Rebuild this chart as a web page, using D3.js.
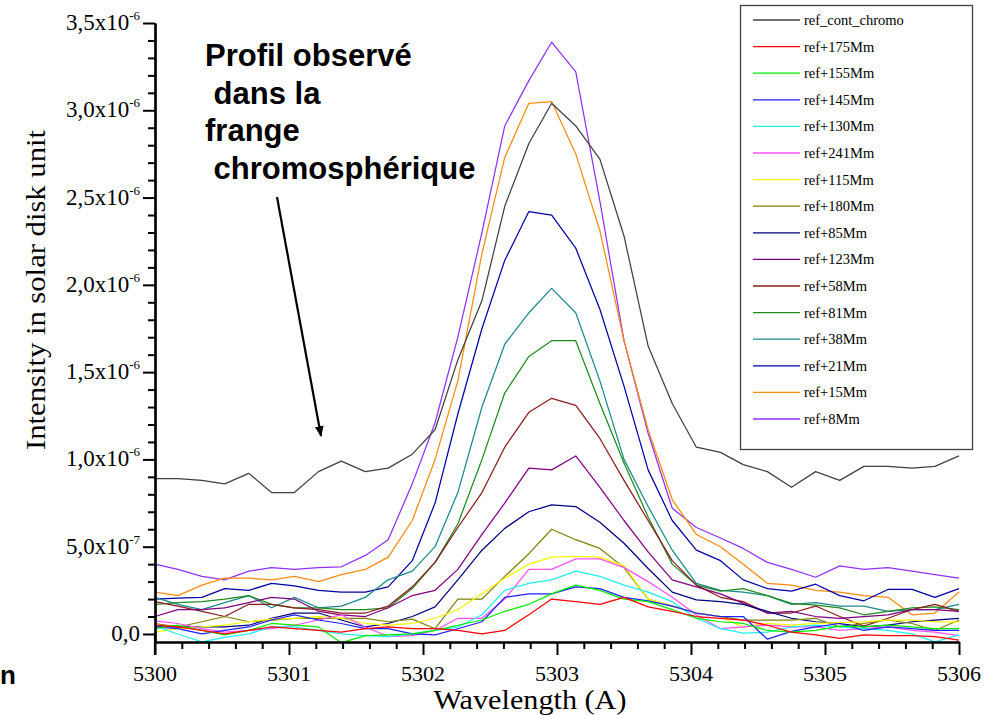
<!DOCTYPE html>
<html><head><meta charset="utf-8">
<script src="https://cdn.jsdelivr.net/npm/d3@7/dist/d3.min.js"></script>
<style>
html,body{margin:0;padding:0;background:#fff;}
svg{display:block;}
</style></head>
<body>
<svg id="chart" width="984" height="715"></svg>
<script>
// ---------- DATA (intensity in units of 1e-6 solar disk unit) ----------
const wavelengths = [5300.00,5300.17,5300.35,5300.52,5300.70,5300.87,5301.04,5301.22,5301.39,5301.57,5301.74,5301.92,5302.09,5302.26,5302.44,5302.61,5302.79,5302.96,5303.14,5303.32,5303.50,5303.68,5303.86,5304.04,5304.22,5304.39,5304.57,5304.75,5304.93,5305.11,5305.29,5305.47,5305.65,5305.82,5306.00];

const seriesNames = ["ref_cont_chromo","ref+175Mm","ref+155Mm","ref+145Mm","ref+130Mm","ref+241Mm","ref+115Mm","ref+180Mm","ref+85Mm","ref+123Mm","ref+58Mm","ref+81Mm","ref+38Mm","ref+21Mm","ref+15Mm","ref+8Mm"];
const seriesColors = ["#404040","#ff0000","#00ee00","#2020ff","#20f0f0","#ff50ff","#f8f800","#808000","#000080","#800080","#8c1c1c","#208a20","#1a8a8a","#0000a8","#ff8a10","#9030ff"];

const refContChromo = [0.89,0.89,0.88,0.86,0.92,0.81,0.81,0.93,0.99,0.93,0.95,1.03,1.17,1.57,1.91,2.45,2.81,3.04,2.91,2.72,2.28,1.65,1.32,1.07,1.04,0.97,0.93,0.84,0.93,0.88,0.96,0.96,0.95,0.96,1.02];
const ref175 = [0.05,0.04,0.02,0.00,0.02,0.04,0.03,0.02,0.01,0.03,0.04,0.03,0.03,0.02,0.00,0.02,0.11,0.20,0.185,0.17,0.21,0.155,0.13,0.10,0.09,0.08,0.05,0.01,-0.005,-0.025,-0.005,-0.01,-0.01,-0.015,-0.035];
const ref155 = [0.03,0.05,0.02,-0.005,0.02,0.06,0.05,0.04,-0.05,-0.01,-0.005,0.00,0.02,0.05,0.08,0.13,0.17,0.23,0.28,0.25,0.20,0.185,0.14,0.09,0.07,0.06,0.02,0.01,0.02,0.045,0.04,0.05,0.04,0.03,0.03];
const ref145 = [0.04,0.03,0.00,0.02,0.04,0.08,0.11,0.08,0.06,0.03,0.03,0.00,-0.005,0.03,0.07,0.21,0.23,0.23,0.27,0.26,0.21,0.19,0.16,0.12,0.10,0.10,-0.03,0.015,0.04,0.06,0.02,0.04,0.03,0.02,0.02];
const ref130 = [0.045,0.00,-0.045,-0.02,0.00,0.04,0.04,0.02,0.00,-0.01,-0.015,0.00,0.02,0.04,0.11,0.25,0.29,0.31,0.36,0.33,0.28,0.24,0.185,0.09,0.03,0.005,0.01,0.04,0.05,0.04,0.03,0.02,0.00,-0.045,-0.005];
const ref241 = [0.075,0.06,0.03,0.01,0.02,0.03,0.05,0.08,0.11,0.04,-0.015,-0.01,0.02,0.09,0.09,0.20,0.37,0.37,0.43,0.43,0.38,0.30,0.21,0.11,0.03,0.04,0.05,0.04,0.04,0.02,0.03,0.04,0.02,0.01,-0.01];
const ref115 = [0.01,0.03,0.04,0.05,0.07,0.085,0.09,0.10,0.09,0.06,0.05,0.06,0.09,0.14,0.23,0.32,0.40,0.44,0.445,0.44,0.39,0.20,0.16,0.12,0.10,0.04,0.06,0.05,0.06,0.065,0.07,0.08,0.08,0.07,0.07];
const ref180 = [0.06,0.04,0.07,0.10,0.07,0.08,0.09,0.09,0.09,0.09,0.07,0.085,0.03,0.20,0.20,0.33,0.46,0.60,0.54,0.49,0.38,0.20,0.16,0.12,0.10,0.08,0.08,0.08,0.09,0.04,0.06,0.08,0.06,0.02,0.08];
const ref85 = [0.04,0.04,0.04,0.04,0.05,0.09,0.12,0.12,0.08,0.04,0.06,0.10,0.155,0.31,0.48,0.605,0.70,0.74,0.73,0.64,0.52,0.375,0.24,0.195,0.185,0.17,0.13,0.09,0.07,0.06,0.04,0.05,0.07,0.08,0.09];
const ref123 = [0.10,0.14,0.14,0.15,0.18,0.21,0.20,0.13,0.11,0.10,0.15,0.22,0.25,0.37,0.57,0.75,0.95,0.94,1.02,0.84,0.65,0.47,0.31,0.27,0.23,0.175,0.12,0.13,0.10,0.09,0.10,0.11,0.14,0.14,0.13];
const ref58 = [0.185,0.16,0.13,0.10,0.17,0.17,0.15,0.14,0.12,0.12,0.16,0.27,0.41,0.61,0.81,1.07,1.27,1.35,1.31,1.12,0.88,0.65,0.42,0.28,0.21,0.185,0.12,0.12,0.16,0.10,0.045,0.09,0.14,0.17,0.13];
const ref81 = [0.17,0.18,0.185,0.20,0.22,0.17,0.15,0.15,0.14,0.14,0.15,0.26,0.41,0.63,1.00,1.38,1.59,1.68,1.68,1.32,0.98,0.67,0.40,0.28,0.245,0.26,0.22,0.175,0.165,0.15,0.11,0.13,0.15,0.155,0.14];
const ref38 = [0.21,0.17,0.14,0.18,0.22,0.15,0.21,0.15,0.16,0.21,0.31,0.36,0.50,0.81,1.30,1.66,1.84,1.98,1.84,1.45,1.00,0.73,0.48,0.29,0.25,0.24,0.22,0.17,0.18,0.16,0.16,0.13,0.14,0.14,0.17];
const ref21 = [0.20,0.205,0.21,0.26,0.25,0.29,0.275,0.25,0.24,0.24,0.27,0.42,0.75,1.26,1.75,2.14,2.42,2.40,2.21,1.86,1.42,0.94,0.65,0.48,0.42,0.31,0.26,0.245,0.285,0.22,0.19,0.255,0.255,0.21,0.26];
const ref15 = [0.24,0.22,0.28,0.32,0.32,0.31,0.33,0.30,0.34,0.37,0.44,0.65,1.00,1.45,2.18,2.73,3.04,3.05,2.75,2.31,1.68,1.17,0.77,0.57,0.50,0.40,0.29,0.28,0.25,0.24,0.22,0.21,0.11,0.12,0.24];
const ref8 = [0.40,0.37,0.33,0.31,0.36,0.38,0.37,0.38,0.385,0.45,0.54,0.86,1.21,1.70,2.30,2.91,3.17,3.39,3.22,2.48,1.68,1.15,0.72,0.61,0.55,0.49,0.41,0.37,0.325,0.39,0.37,0.38,0.36,0.34,0.32];

const seriesValues = [refContChromo,ref175,ref155,ref145,ref130,ref241,ref115,ref180,ref85,ref123,ref58,ref81,ref38,ref21,ref15,ref8];

const xTickValues = [5300,5301,5302,5303,5304,5305,5306];
const xTickLabels = ["5300","5301","5302","5303","5304","5305","5306"];
const yTickValues = [0,0.5,1.0,1.5,2.0,2.5,3.0,3.5];
const yTickMantissa = ["0,0","5,0x10","1,0x10","1,5x10","2,0x10","2,5x10","3,0x10","3,5x10"];
const yTickExponent = ["","-7","-6","-6","-6","-6","-6","-6"];

const annotationLines = ["Profil observé"," dans la","frange"," chromosphérique"];

// ---------- DRAW ----------
const svg = d3.select("#chart");
const x = d3.scaleLinear().domain([5300,5306]).range([155,959]);
const y = d3.scaleLinear().domain([-0.046,3.5]).range([642,23]);

const serif = "'Liberation Serif','Times New Roman',serif";
const sans = "'Liberation Sans',Arial,sans-serif";

// series lines (draw last legend entry first so the reference profile is on top)
const line = d3.line().x((d,i)=>x(wavelengths[i])).y(d=>y(d));
const order = d3.range(seriesNames.length).reverse();
svg.append("g").selectAll("path").data(order).join("path")
  .attr("d", i=>line(seriesValues[i]))
  .attr("fill","none")
  .attr("stroke", i=>seriesColors[i])
  .attr("stroke-width",1.25)
  .attr("stroke-linejoin","round");

// X axis
const xMinor = d3.range(5300,5306.001,0.2).filter(v=>Math.abs(v-Math.round(v))>1e-6);
const gx = svg.append("g").attr("transform","translate(0,642)");
gx.call(d3.axisBottom(x).tickValues(xMinor).tickSize(7).tickFormat("").tickSizeOuter(0));
gx.append("g").call(d3.axisBottom(x).tickValues(xTickValues).tickSize(13).tickFormat("").tickSizeOuter(0));
gx.selectAll("path.domain").attr("stroke","#000").attr("stroke-width",2.2);
gx.selectAll(".tick line").attr("stroke","#000").attr("stroke-width",2);
svg.append("g").selectAll("text").data(xTickValues).join("text")
  .attr("x",d=>x(d)).attr("y",681)
  .attr("text-anchor","middle")
  .style("font-family",serif).style("font-size","22px").attr("fill","#000")
  .text((d,i)=>xTickLabels[i]);

// Y axis
const yMinor = d3.range(0,3.5001,0.1).filter(v=>Math.abs(v*2-Math.round(v*2))>1e-6);
const gy = svg.append("g").attr("transform","translate(155,0)");
gy.call(d3.axisLeft(y).tickValues(yMinor).tickSize(7).tickFormat("").tickSizeOuter(0));
gy.append("g").call(d3.axisLeft(y).tickValues(yTickValues).tickSize(12).tickFormat("").tickSizeOuter(0));
gy.selectAll("path.domain").attr("stroke","#000").attr("stroke-width",2.2);
gy.selectAll(".tick line").attr("stroke","#000").attr("stroke-width",2);
svg.append("line").attr("x1",155).attr("x2",155).attr("y1",y(0)).attr("y2",655).attr("stroke","#000").attr("stroke-width",2.2);

const yl = svg.append("g").selectAll("text").data(yTickValues).join("text")
  .attr("x",140).attr("y",d=>y(d)+7)
  .attr("text-anchor","end")
  .style("font-family",serif).style("font-size","23px").attr("fill","#000");
yl.append("tspan").text((d,i)=>yTickMantissa[i]);
yl.append("tspan").attr("dy",-10).style("font-size","13px").text((d,i)=>yTickExponent[i]);

// Axis titles
svg.append("text").attr("x",530).attr("y",709).attr("text-anchor","middle")
  .style("font-family",serif).style("font-size","28px")
  .attr("textLength",193).attr("lengthAdjust","spacingAndGlyphs")
  .text("Wavelength (A)");
svg.append("text").attr("transform","translate(45,290) rotate(-90)").attr("text-anchor","middle")
  .style("font-family",serif).style("font-size","28px")
  .attr("textLength",320).attr("lengthAdjust","spacingAndGlyphs")
  .text("Intensity in solar disk unit");

// Legend
const lg = svg.append("g");
lg.append("rect").attr("x",740.5).attr("y",5.5).attr("width",232).attr("height",444)
  .attr("fill","#fff").attr("stroke","#404040").attr("stroke-width",1.3);
const le = lg.selectAll("g.entry").data(seriesNames).join("g").attr("class","entry")
  .attr("transform",(d,i)=>`translate(0,${20+i*26.6})`);
le.append("line").attr("x1",753).attr("x2",800).attr("y1",0).attr("y2",0)
  .attr("stroke",(d,i)=>seriesColors[i]).attr("stroke-width",1.3);
le.append("text").attr("x",804).attr("y",5)
  .style("font-family",serif).style("font-size","14.5px").attr("fill","#000")
  .text(d=>d);

// Annotation
const ann = svg.append("g").style("font-family",sans).style("font-weight","bold").style("font-size","31px");
const annX = [205,205,205,205];
const annY = [66,104,141,179];
ann.selectAll("text").data(annotationLines).join("text")
  .attr("x",(d,i)=>annX[i]).attr("y",(d,i)=>annY[i])
  .attr("xml:space","preserve").style("white-space","pre")
  .text(d=>d);
svg.append("defs").append("marker").attr("id","ah").attr("viewBox","0 0 10 10")
  .attr("refX",9).attr("refY",5).attr("markerWidth",5).attr("markerHeight",5)
  .attr("orient","auto").append("path").attr("d","M0,1 L10,5 L0,9 Z").attr("fill","#000");
svg.append("line").attr("x1",277).attr("y1",197).attr("x2",321).attr("y2",436)
  .attr("stroke","#000").attr("stroke-width",2.2).attr("marker-end","url(#ah)");

// small bold fragment at the bottom-left, as in the reference
svg.append("text").attr("x",0).attr("y",684)
  .style("font-family",sans).style("font-weight","bold").style("font-size","26px").text("n");
</script>
</body></html>
